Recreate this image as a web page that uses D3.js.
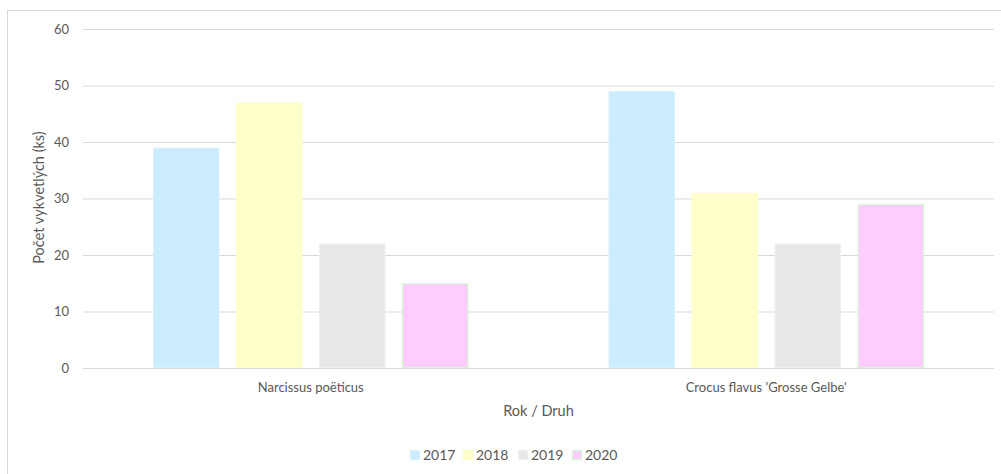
<!DOCTYPE html>
<html>
<head>
<meta charset="utf-8">
<script src="https://cdn.jsdelivr.net/npm/d3@7"></script>
<style>
  html, body { margin: 0; padding: 0; background: #fff; }
  svg { display: block; font-family: Lato, "Open Sans", sans-serif; }
</style>
</head>
<body>
<svg id="chart" width="1001" height="474"></svg>
<script>
// Flowering counts per species and year
const categories = ["Narcissus poëticus", "Crocus flavus 'Grosse Gelbe'"];
const years = ["2017", "2018", "2019", "2020"];
const values2017 = [39, 49];
const values2018 = [47, 31];
const values2019 = [22, 22];
const values2020 = [15, 29];
const yTicks = [0, 10, 20, 30, 40, 50, 60];

const seriesValues = [values2017, values2018, values2019, values2020];
const fills = ["#CCECFF", "#FFFFCC", "#E8E8E8", "#FFCCFF"];
const strokes = ["#D8F0FF", "#FFFFCC", "#EFEFEF", "#CCFFCC"];

const svg = d3.select("#chart");
const W = 1001, H = 474;
const margin = { left: 83, right: 7, top: 29, bottom: 106 };
const plotW = W - margin.left - margin.right;
const plotH = H - margin.top - margin.bottom;

// Outer chart border
svg.append("rect")
  .attr("x", 7.5).attr("y", 10.5)
  .attr("width", 1000).attr("height", 480)
  .attr("fill", "none").attr("stroke", "#D9D9D9");

const g = svg.append("g").attr("transform", `translate(${margin.left},${margin.top})`);

const x0 = d3.scaleBand().domain(categories).range([0, plotW]).paddingInner(0).paddingOuter(0);
const x1 = d3.scaleBand().domain(years).range([70, x0.bandwidth() - 70]).paddingInner(0.2).paddingOuter(0);
const y = d3.scaleLinear().domain([0, 60]).range([plotH, 0]);

// Gridlines + tick labels
const yAxis = d3.axisLeft(y).tickValues(yTicks).tickSize(-plotW).tickPadding(14);
const ya = g.append("g").call(yAxis);
ya.select(".domain").remove();
ya.selectAll(".tick line").attr("stroke", "#D9D9D9").attr("stroke-width", 1);
ya.selectAll(".tick text")
  .attr("fill", "#595959").attr("font-size", "13px")
  .attr("font-family", "Lato, 'Open Sans', sans-serif");

// Bars
const groups = g.selectAll(".cat").data(categories).join("g")
  .attr("class", "cat")
  .attr("transform", d => `translate(${x0(d)},0)`);

groups.selectAll("rect")
  .data((c, ci) => years.map((yr, si) => ({ yr, si, v: seriesValues[si][ci] })))
  .join("rect")
  .attr("x", d => x1(d.yr) + 0.5)
  .attr("y", d => y(d.v) + 0.5)
  .attr("width", x1.bandwidth() - 1)
  .attr("height", d => y(0) - y(d.v) - 1)
  .attr("fill", d => fills[d.si])
  .attr("stroke", d => strokes[d.si])
  .attr("stroke-width", 1);

// Baseline
g.append("line")
  .attr("x1", 0).attr("x2", plotW)
  .attr("y1", y(0) + 0.5).attr("y2", y(0) + 0.5)
  .attr("stroke", "#D9D9D9");

// Category labels
g.selectAll(".catlabel").data(categories).join("text")
  .attr("x", d => x0(d) + x0.bandwidth() / 2)
  .attr("y", plotH + 24)
  .attr("text-anchor", "middle")
  .attr("fill", "#595959").attr("font-size", "13px")
  .text(d => d);

// Axis titles
g.append("text")
  .attr("x", plotW / 2).attr("y", plotH + 48)
  .attr("text-anchor", "middle")
  .attr("fill", "#595959").attr("font-size", "14.5px")
  .text("Rok / Druh");

svg.append("text")
  .attr("transform", `translate(44,${margin.top + plotH / 2 - 1}) rotate(-90)`)
  .attr("text-anchor", "middle")
  .attr("fill", "#595959").attr("font-size", "14.5px")
  .text("Počet vykvetlých (ks)");

// Legend
const legendX = [410, 463, 518, 572];
const legend = svg.selectAll(".leg").data(years).join("g")
  .attr("class", "leg")
  .attr("transform", (d, i) => `translate(${legendX[i]},450)`);
legend.append("rect")
  .attr("x", 0.5).attr("y", 0.5)
  .attr("width", 9).attr("height", 9)
  .attr("fill", (d, i) => fills[i])
  .attr("stroke", (d, i) => strokes[i]);
legend.append("text")
  .attr("x", 13).attr("y", 10)
  .attr("fill", "#595959").attr("font-size", "14px")
  .text(d => d);
</script>
</body>
</html>
